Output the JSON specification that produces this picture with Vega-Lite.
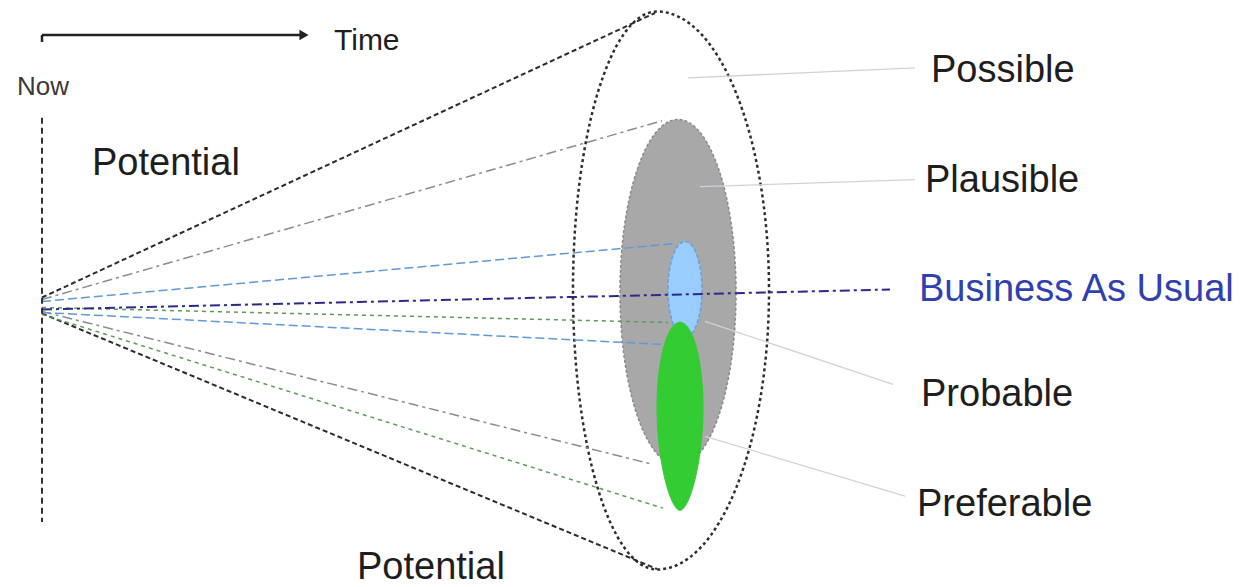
{
  "$schema": "https://vega.github.io/schema/vega-lite/v6.json",
  "width": 1249,
  "height": 587,
  "autosize": {"type": "fit", "contains": "padding"},
  "padding": 0,
  "background": "white",
  "config": {"view": {"stroke": null}},
  "datasets": {
    "regions": [
      {"name": "Possible", "x": 671, "y": 291},
      {"name": "Plausible", "x": 678, "y": 293},
      {"name": "Probable", "x": 685, "y": 290},
      {"name": "Preferable", "x": 680, "y": 417}
    ],
    "segs": [
      {"seg": "edge", "x": 42, "y": 298, "x2": 655, "y2": 13},
      {"seg": "edge", "x": 42, "y": 314, "x2": 657, "y2": 570},
      {"seg": "plausible", "x": 42, "y": 300, "x2": 662, "y2": 121},
      {"seg": "plausible", "x": 42, "y": 312, "x2": 652, "y2": 465},
      {"seg": "probable", "x": 42, "y": 302, "x2": 675, "y2": 244},
      {"seg": "probable", "x": 42, "y": 313, "x2": 662, "y2": 345},
      {"seg": "preferable", "x": 42, "y": 308, "x2": 668, "y2": 323},
      {"seg": "preferable", "x": 42, "y": 315, "x2": 663, "y2": 509},
      {"seg": "bau", "x": 42, "y": 310, "x2": 890, "y2": 290},
      {"seg": "leader", "x": 688, "y": 78, "x2": 915, "y2": 68},
      {"seg": "leader", "x": 700, "y": 187, "x2": 915, "y2": 180},
      {"seg": "leader", "x": 705, "y": 322, "x2": 893, "y2": 385},
      {"seg": "leader", "x": 705, "y": 437, "x2": 905, "y2": 497},
      {"seg": "now", "x": 42, "y": 118, "x2": 42, "y2": 523},
      {"seg": "time", "x": 42, "y": 35, "x2": 300, "y2": 35},
      {"seg": "time", "x": 42, "y": 35, "x2": 42, "y2": 42}
    ],
    "arrow": [{"x": 304, "y": 35}],
    "labels": [
      {"group": "big", "text": "Possible", "x": 931, "y": 82},
      {"group": "big", "text": "Plausible", "x": 925, "y": 192},
      {"group": "bau", "text": "Business As Usual", "x": 919, "y": 302},
      {"group": "big", "text": "Probable", "x": 921, "y": 407},
      {"group": "big", "text": "Preferable", "x": 917, "y": 517},
      {"group": "big", "text": "Potential", "x": 92, "y": 175},
      {"group": "big", "text": "Potential", "x": 357, "y": 580},
      {"group": "time", "text": "Time", "x": 334, "y": 50},
      {"group": "now", "text": "Now", "x": 43, "y": 95}
    ]
  },
  "encoding": {
    "x": {"field": "x", "type": "quantitative", "scale": {"domain": [0, 1249], "nice": false, "zero": false}, "axis": null},
    "y": {"field": "y", "type": "quantitative", "scale": {"domain": [0, 587], "nice": false, "zero": false, "reverse": true}, "axis": null}
  },
  "layer": [
    {
      "data": {"name": "regions"},
      "transform": [{"filter": "datum.name === 'Possible'"}],
      "mark": {"type": "point", "shape": "M 0.3513 0 C 0.3513 0.5523 0.1715 1 -0.0502 1 C -0.2165 1 -0.3513 0.5523 -0.3513 0 C -0.3513 -0.5523 -0.2165 -1 -0.0502 -1 C 0.1715 -1 0.3513 -0.5523 0.3513 0 Z", "size": 311364, "filled": false, "stroke": "#2e2e2e", "strokeWidth": 2.5, "strokeDash": [3, 3], "opacity": 1}
    },
    {
      "data": {"name": "regions"},
      "transform": [{"filter": "datum.name === 'Plausible'"}],
      "mark": {"type": "point", "shape": "M 0.3353 0 C 0.3353 0.5523 0.1852 1 0 1 C -0.1852 1 -0.3353 0.5523 -0.3353 0 C -0.3353 -0.5523 -0.1852 -1 0 -1 C 0.1852 -1 0.3353 -0.5523 0.3353 0 Z", "size": 119716, "filled": true, "fill": "#a8a8a8", "stroke": "#8a8a8a", "strokeWidth": 1.5, "strokeDash": [3, 2], "opacity": 1}
    },
    {
      "data": {"name": "regions"},
      "transform": [{"filter": "datum.name === 'Probable'"}],
      "mark": {"type": "point", "shape": "M 0.3542 0 C 0.3542 0.5523 0.1956 1 0 1 C -0.1956 1 -0.3542 0.5523 -0.3542 0 C -0.3542 -0.5523 -0.1956 -1 0 -1 C 0.1956 -1 0.3542 -0.5523 0.3542 0 Z", "size": 9216, "filled": true, "fill": "#99ccff", "stroke": "#6b9fd6", "strokeWidth": 1.5, "strokeDash": [4, 2], "opacity": 1}
    },
    {
      "data": {"name": "regions"},
      "transform": [{"filter": "datum.name === 'Preferable'"}],
      "mark": {"type": "point", "shape": "M 0.2447 -0.1 C 0.2447 0.5075 0.095 1 0 1 C -0.095 1 -0.2447 0.5075 -0.2447 -0.1 C -0.2447 -0.597 -0.1351 -1 0 -1 C 0.1351 -1 0.2447 -0.597 0.2447 -0.1 Z", "size": 35344, "filled": true, "fill": "#33cc33", "stroke": "#33cc33", "strokeWidth": 1, "opacity": 1}
    },
    {
      "data": {"name": "segs"},
      "transform": [{"filter": "datum.seg === 'leader'"}],
      "mark": {"type": "rule", "stroke": "#cfd2da", "strokeWidth": 1.3},
      "encoding": {"x2": {"field": "x2"}, "y2": {"field": "y2"}}
    },
    {
      "data": {"name": "segs"},
      "transform": [{"filter": "datum.seg === 'edge'"}],
      "mark": {"type": "rule", "stroke": "#2b2b2b", "strokeWidth": 2, "strokeDash": [5, 3]},
      "encoding": {"x2": {"field": "x2"}, "y2": {"field": "y2"}}
    },
    {
      "data": {"name": "segs"},
      "transform": [{"filter": "datum.seg === 'plausible'"}],
      "mark": {"type": "rule", "stroke": "#8c8c8c", "strokeWidth": 1.5, "strokeDash": [10, 4, 3, 4]},
      "encoding": {"x2": {"field": "x2"}, "y2": {"field": "y2"}}
    },
    {
      "data": {"name": "segs"},
      "transform": [{"filter": "datum.seg === 'probable'"}],
      "mark": {"type": "rule", "stroke": "#5e9ad6", "strokeWidth": 1.5, "strokeDash": [9, 4]},
      "encoding": {"x2": {"field": "x2"}, "y2": {"field": "y2"}}
    },
    {
      "data": {"name": "segs"},
      "transform": [{"filter": "datum.seg === 'preferable'"}],
      "mark": {"type": "rule", "stroke": "#5a9a5a", "strokeWidth": 1.5, "strokeDash": [4, 4]},
      "encoding": {"x2": {"field": "x2"}, "y2": {"field": "y2"}}
    },
    {
      "data": {"name": "segs"},
      "transform": [{"filter": "datum.seg === 'bau'"}],
      "mark": {"type": "rule", "stroke": "#2a2a8c", "strokeWidth": 2, "strokeDash": [10, 4, 3, 4]},
      "encoding": {"x2": {"field": "x2"}, "y2": {"field": "y2"}}
    },
    {
      "data": {"name": "segs"},
      "transform": [{"filter": "datum.seg === 'now'"}],
      "mark": {"type": "rule", "stroke": "#333333", "strokeWidth": 2, "strokeDash": [6, 4]},
      "encoding": {"x2": {"field": "x2"}, "y2": {"field": "y2"}}
    },
    {
      "data": {"name": "segs"},
      "transform": [{"filter": "datum.seg === 'time'"}],
      "mark": {"type": "rule", "stroke": "#222222", "strokeWidth": 2.5},
      "encoding": {"x2": {"field": "x2"}, "y2": {"field": "y2"}}
    },
    {
      "data": {"name": "arrow"},
      "mark": {"type": "point", "shape": "triangle-right", "size": 110, "filled": true, "fill": "#222222", "opacity": 1}
    },
    {
      "data": {"name": "labels"},
      "transform": [{"filter": "datum.group === 'big'"}],
      "mark": {"type": "text", "align": "left", "baseline": "alphabetic", "font": "Liberation Sans", "fontSize": 38, "color": "#1e1e1e"},
      "encoding": {"text": {"field": "text"}}
    },
    {
      "data": {"name": "labels"},
      "transform": [{"filter": "datum.group === 'bau'"}],
      "mark": {"type": "text", "align": "left", "baseline": "alphabetic", "font": "Liberation Sans", "fontSize": 38, "color": "#3140b0"},
      "encoding": {"text": {"field": "text"}}
    },
    {
      "data": {"name": "labels"},
      "transform": [{"filter": "datum.group === 'time'"}],
      "mark": {"type": "text", "align": "left", "baseline": "alphabetic", "font": "Liberation Sans", "fontSize": 30, "color": "#1e1e1e"},
      "encoding": {"text": {"field": "text"}}
    },
    {
      "data": {"name": "labels"},
      "transform": [{"filter": "datum.group === 'now'"}],
      "mark": {"type": "text", "align": "center", "baseline": "alphabetic", "font": "Liberation Sans", "fontSize": 26, "color": "#3a3a3a"},
      "encoding": {"text": {"field": "text"}}
    }
  ]
}
